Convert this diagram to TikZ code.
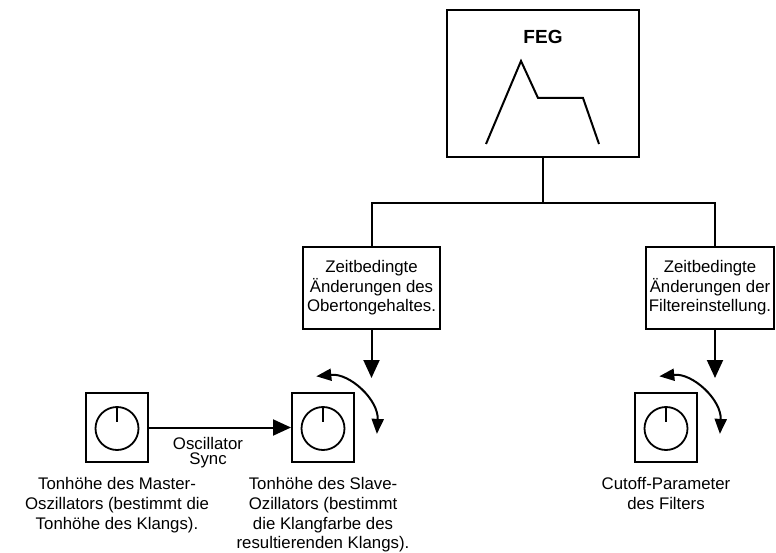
\documentclass[tikz,border=0pt]{standalone}
\usepackage{fontspec}
\setmainfont{Liberation Sans}
\usetikzlibrary{arrows.meta,calc}
\begin{document}
\begin{tikzpicture}[x=1pt,y=-1pt,
  txt/.style={font=\fontsize{16.8}{19.6}\selectfont, align=center, inner sep=0pt},
  synctxt/.style={font=\fontsize{16.8}{15.5}\selectfont, align=center, inner sep=0pt},
  envbox/.style={draw, line width=2.6pt, minimum width=192pt, minimum height=147pt, inner sep=0pt},
  infobox/.style={draw, line width=1.3pt, fill=white, minimum height=82pt, inner sep=0pt, txt},
  knobbox/.style={draw, line width=2pt, minimum width=62pt, minimum height=69pt, inner sep=0pt},
  dial/.style={draw, circle, line width=1.8pt, minimum size=43pt, inner sep=0pt},
  conn/.style={line width=2pt},
  arr/.style={conn, -{Triangle[length=18pt,width=16pt]}},
  turn/.style={line width=2pt, {Triangle[length=15pt,width=12pt]}-{Triangle[length=15pt,width=12pt]}},
]
\useasboundingbox (0,0) rectangle (776,553);

% FEG box
\node[envbox] (feg) at (543,83.5) {};
\node[font=\fontsize{19}{22}\selectfont\bfseries, inner sep=0pt, anchor=base] (fegtitle) at (543,44) {FEG};
\draw[line width=2pt, line join=miter] (486,144) -- (521,61) -- (538,98) -- (583,98) -- (599,144);

% info boxes
\node[infobox, minimum width=137pt] (b1) at (371.5,288) {Zeitbedingte\\Änderungen des\\Obertongehaltes.};
\node[infobox, minimum width=128pt] (b2) at (710,288) {Zeitbedingte\\Änderungen der\\Filtereinstellung.};

\coordinate (j) at (543,203);
\coordinate (c2) at (715,247);
\draw[conn] (feg.south) -- (j);
\draw[conn] (b1.north) |- (j) -| (c2);

% knobs
\node[knobbox] (k1) at (117,427.5) {};
\node[dial] (d1) at ($(k1.center)+(0,1)$) {};
\draw[line width=1.8pt] (d1.north) -- ++(0,16);
\node[knobbox] (k2) at (323,427.5) {};
\node[dial] (d2) at ($(k2.center)+(0,1)$) {};
\draw[line width=1.8pt] (d2.north) -- ++(0,16);
\node[knobbox] (k3) at (666,427.5) {};
\node[dial] (d3) at ($(k3.center)+(0,1)$) {};
\draw[line width=1.8pt] (d3.north) -- ++(0,16);

% arrows
\coordinate (t1) at (371.5,378);
\coordinate (t2) at (715,378);
\draw[arr] (b1.south) -- (t1);
\draw[arr] (c2 |- b2.south) -- (t2);
\draw[arr] (k1.east) -- (k2.west);

% turn arrows
\draw[turn] ($(k2.center)+(-6.7,-51.2)$) .. controls ($(k2.center)+(26.9,-54.7)$) and ($(k2.center)+(55.7,-27.4)$) .. ($(k2.center)+(53.9,6.4)$);
\draw[turn] ($(k3.center)+(-6.7,-51.2)$) .. controls ($(k3.center)+(26.9,-54.7)$) and ($(k3.center)+(55.7,-27.4)$) .. ($(k3.center)+(53.9,6.4)$);

% labels
\node[synctxt, anchor=north] (sync) at (208,437) {Oscillator\\Sync};
\node[txt, anchor=north] (l1) at (117,477.5) {Tonhöhe des Master-\\Oszillators (bestimmt die\\Tonhöhe des Klangs).};
\node[txt, anchor=north] (l2) at (323,477.5) {Tonhöhe des Slave-\\Ozillators (bestimmt\\die Klangfarbe des\\resultierenden Klangs).};
\node[txt, anchor=north] (l3) at (666,477.5) {Cutoff-Parameter\\des Filters};
\end{tikzpicture}
\end{document}
